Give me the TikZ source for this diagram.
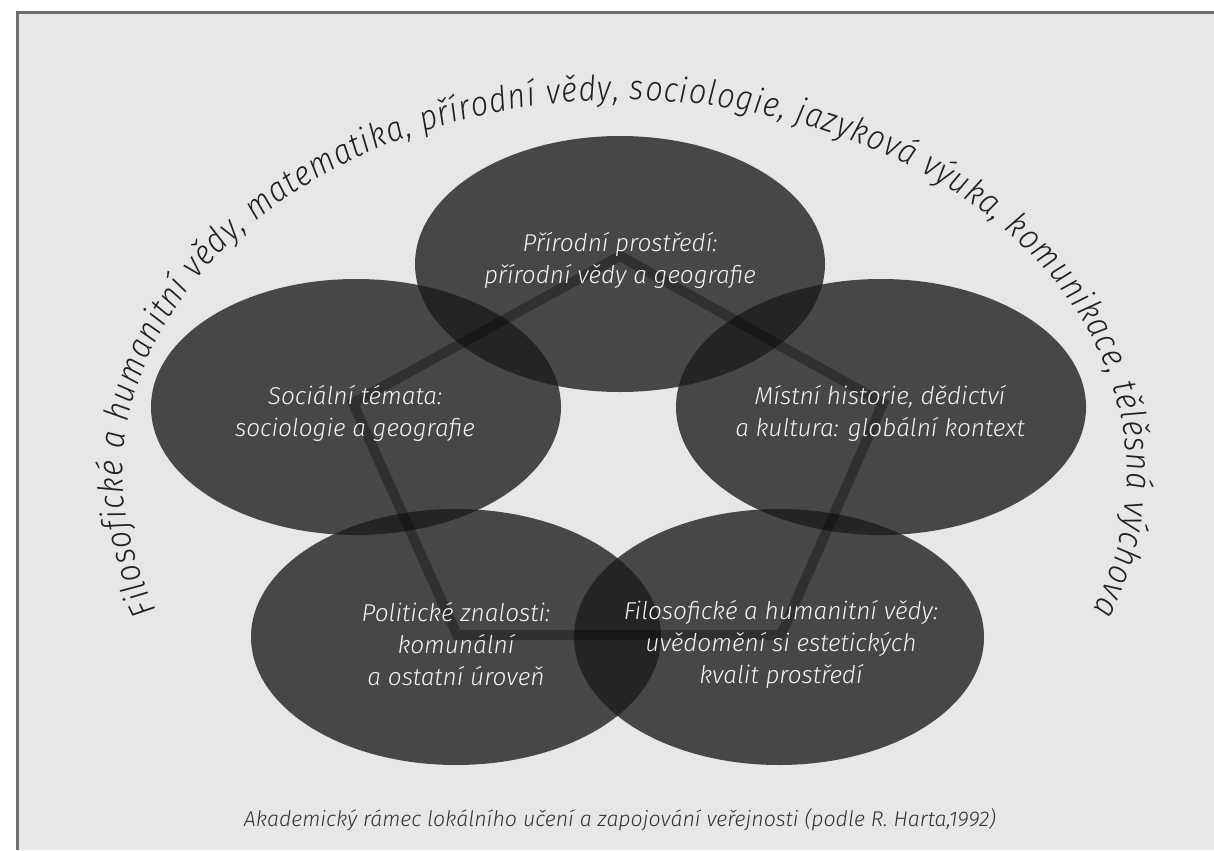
\documentclass[tikz,border=0pt]{standalone}
\usepackage{fontspec}
\setmainfont{Fira Sans Light}[ItalicFont={Fira Sans Light Italic}]
\newfontfamily\arcfont{Fira Sans Light Italic}[FakeStretch=0.88]
\usetikzlibrary{shapes.geometric,decorations.text}
\definecolor{bgc}{HTML}{E6E7E9}
\definecolor{framec}{HTML}{6E6E70}
\definecolor{ellc}{HTML}{1B1B1C}
\definecolor{txtc}{HTML}{F4F4F4}
\definecolor{arcc}{HTML}{231F20}
\definecolor{capc}{HTML}{333333}
\begin{document}
\begin{tikzpicture}[x=0.75pt,y=-0.75pt,
  blob/.style={ellipse, minimum width=307.5pt, minimum height=192pt, inner sep=0pt, fill=ellc, fill opacity=0.78, draw=none},
  lbl/.style={text=txtc, font=\itshape\fontsize{18.3}{24}\selectfont, align=center, inner sep=0pt},
  pent/.style={draw=black, draw opacity=0.32, line width=7.5pt, line join=miter},
  capstyle/.style={text=capc, font=\itshape\fontsize{16}{18}\selectfont, inner sep=0pt},
  framestyle/.style={draw=framec, line width=2.25pt}]
\useasboundingbox (0,0) rectangle (1214,850);
\fill[white] (0,0) rectangle (1214,850);
\fill[bgc] (17,12) rectangle (1214,850);
\coordinate (fb) at (17.5,850);
\coordinate (ftl) at (17.5,12.5);
\coordinate (fr) at (1214,12.5);
\draw[framestyle] (fb) -- (ftl) -- (fr);
% ellipses
\node[blob] (etop) at (620,264) {};
\node[blob] (eleft) at (356,407) {};
\node[blob] (eright) at (881,407) {};
\node[blob] (ebl) at (456,637) {};
\node[blob] (ebr) at (779,637) {};
% pentagon
\coordinate (p1) at (620,256);
\coordinate (p2) at (883,403);
\coordinate (p3) at (781,635);
\coordinate (p4) at (457,635);
\coordinate (p5) at (353,403);
\draw[pent] (p1) -- (p2) -- (p3) -- (p4) -- (p5) -- cycle;
% labels
\node[lbl] (ttop) at (620,260) {Přírodní prostředí:\\přírodní vědy a geografie};
\node[lbl] (tleft) at (355,413) {Sociální témata:\\sociologie a geografie};
\node[lbl] (tright) at (880,413) {Místní historie, dědictví\\a kultura: globální kontext};
\node[lbl] (tbl) at (456,644) {Politické znalosti:\\komunální\\a ostatní úroveň};
\node[lbl] (tbr) at (781,644) {Filosofické a humanitní vědy:\\uvědomění si estetických\\kvalit prostředí};
% arc text
\coordinate (arcS) at (156.7,610);
\path[decorate, decoration={text along path, text align={fit to path}, text color=arcc,
  text={|\arcfont\fontsize{26}{30}\selectfont|Filosofické a humanitní vědy, matematika, přírodní vědy, sociologie, jazyková výuka, komunikace, tělěsná výchova}}]
  (arcS) arc[start angle=158.9, end angle=381.1, x radius=502, y radius=375];
% caption
\node[capstyle] (caption) at (620,820) {Akademický rámec lokálního učení a zapojování veřejnosti (podle R. Harta,1992)};
\end{tikzpicture}
\end{document}
